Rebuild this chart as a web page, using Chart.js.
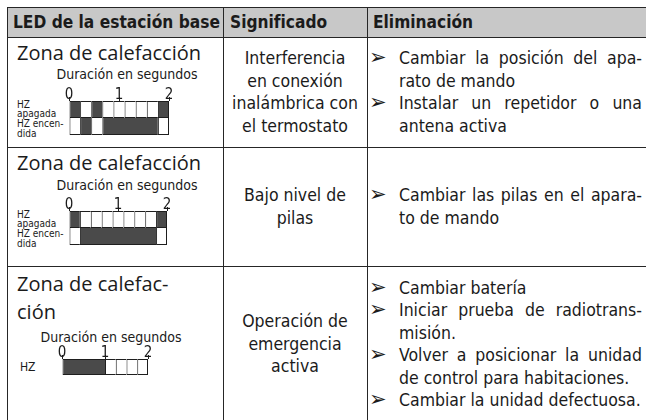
<!DOCTYPE html>
<html lang="es">
<head>
<meta charset="utf-8">
<title>LED de la estación base</title>
<script src="https://cdn.jsdelivr.net/npm/chart.js@4.4.1/dist/chart.umd.min.js"></script>
<style>
  html, body { margin: 0; padding: 0; background: #fff; }
  #tabla { position: relative; width: 646px; height: 420px; overflow: hidden; color: #1b1b1b;
           font-family: "DejaVu Sans Condensed", "DejaVu Sans", sans-serif; font-stretch: semi-condensed; }
  .hl, .vl { position: absolute; background: #262626; }
  .hl { height: 1px; left: 7px; right: 0; }
  .vl { width: 1px; top: 7px; bottom: 0; }
  .head { position: absolute; left: 7px; right: 0; top: 7px; height: 30px; background: #c8c8c8; }
  .th { position: absolute; top: 7px; height: 30px; line-height: 30px; font-weight: bold; font-size: 17.2px; white-space: nowrap; }
  .zona { position: absolute; left: 17px; font-family: "Open Sans", sans-serif; font-stretch: normal; font-size: 20px; line-height: 22px; white-space: nowrap; }
  .dur { position: absolute; width: 170px; text-align: center; font-size: 14px; line-height: 16px; white-space: nowrap; }
  .hz { position: absolute; left: 17px; font-size: 10px; line-height: 9.7px; white-space: nowrap; }
  .sig { position: absolute; left: 223px; width: 144px; display: flex; align-items: center; justify-content: center;
         text-align: center; font-size: 17.5px; line-height: 22.5px; }
  .elim { position: absolute; left: 367px; right: 0; display: flex; flex-direction: column; justify-content: center;
          font-size: 17.5px; line-height: 22.5px; }
  .ln { position: relative; margin-left: 32px; width: 243px; white-space: nowrap; }
  .ln.j { text-align: justify; text-align-last: justify; }
  .ln .b { position: absolute; left: -30px; top: -1px; font-family: "DejaVu Sans", sans-serif; font-stretch: normal; font-size: 21px; line-height: 22.5px; }
  .led { position: absolute; }
</style>
</head>
<body>
<div id="tabla">
  <div class="head"></div>
  <div class="th" style="left:13px">LED de la estación base</div>
  <div class="th" style="left:230px">Significado</div>
  <div class="th" style="left:373px">Eliminación</div>

  <!-- Zeile 1 -->
  <div class="zona" style="top:42px">Zona de calefacción</div>
  <div class="dur" style="left:42px;top:66px">Duración en segundos</div>
  <div class="hz" style="top:99.5px">HZ<br>apagada<br>HZ encen-<br>dida</div>
  <div class="led" style="left:61px;top:81px;width:116px;height:56px"><canvas id="led1"></canvas></div>
  <div class="sig" style="top:37px;height:110px">Interferencia<br>en conexión<br>inalámbrica con<br>el termostato</div>
  <div class="elim" style="top:37px;height:110px">
    <div class="ln j"><span class="b">➢</span>Cambiar la posición del apa-</div>
    <div class="ln">rato de mando</div>
    <div class="ln j"><span class="b">➢</span>Instalar un repetidor o una</div>
    <div class="ln">antena activa</div>
  </div>

  <!-- Zeile 2 -->
  <div class="zona" style="top:152px">Zona de calefacción</div>
  <div class="dur" style="left:42px;top:177px">Duración en segundos</div>
  <div class="hz" style="top:209.5px">HZ<br>apagada<br>HZ encen-<br>dida</div>
  <div class="led" style="left:61px;top:191px;width:114px;height:56px"><canvas id="led2"></canvas></div>
  <div class="sig" style="top:147px;height:119px">Bajo nivel de<br>pilas</div>
  <div class="elim" style="top:147px;height:119px">
    <div class="ln j"><span class="b">➢</span>Cambiar las pilas en el apara-</div>
    <div class="ln">to de mando</div>
  </div>

  <!-- Zeile 3 -->
  <div class="zona" style="top:273px">Zona de calefac-</div>
  <div class="zona" style="top:301px">ción</div>
  <div class="dur" style="left:26px;top:329px">Duración en segundos</div>
  <div class="hz" style="left:20px;top:361px;font-size:12px;line-height:12px">HZ</div>
  <div class="led" style="left:54px;top:339px;width:102px;height:38px"><canvas id="led3"></canvas></div>
  <div class="sig" style="top:266px;height:156px">Operación de<br>emergencia<br>activa</div>
  <div class="elim" style="top:266px;height:156px">
    <div class="ln"><span class="b">➢</span>Cambiar batería</div>
    <div class="ln j"><span class="b">➢</span>Iniciar prueba de radiotrans-</div>
    <div class="ln">misión.</div>
    <div class="ln j"><span class="b">➢</span>Volver a posicionar la unidad</div>
    <div class="ln">de control para habitaciones.</div>
    <div class="ln"><span class="b">➢</span>Cambiar la unidad defectuosa.</div>
  </div>

  <!-- Linien -->
  <div class="hl" style="top:7px"></div>
  <div class="hl" style="top:37px"></div>
  <div class="hl" style="top:147px"></div>
  <div class="hl" style="top:266px"></div>
  <div class="vl" style="left:7px"></div>
  <div class="vl" style="left:223px"></div>
  <div class="vl" style="left:367px"></div>
</div>

<script>
// Zeitachse: Sekunden und ihre Beschriftung
const SECONDS = [0, 1, 2];
const TICK_LABELS = ['0', '1', '2'];

// LED-Muster pro Zelle (1 = leuchtet / dunkel gezeichnet)
const ROWS_TWO = ['HZ apagada', 'HZ encendida'];
const ZONA1_APAGADA   = [1, 0, 1, 0, 0, 0, 0, 0, 1];
const ZONA1_ENCENDIDA = [0, 1, 0, 1, 1, 1, 1, 1, 0];
const ZONA2_APAGADA   = [1, 0, 0, 0, 0, 0, 0, 0, 1];
const ZONA2_ENCENDIDA = [0, 1, 1, 1, 1, 1, 1, 1, 0];
const ROWS_ONE = ['HZ'];
const EMERGENCIA_HZ   = [1, 1, 1, 1, 0, 0, 0, 0];

const DARK = '#4a4a4a';
const LINE = '#1e1e1e';
const FONT = "'DejaVu Sans Condensed', 'DejaVu Sans', sans-serif";

// dunkle Zellen zu einem Block zusammenfassen, helle einzeln lassen
function segments(label, cells, row) {
    const out = [];
    let i = 0;
    while (i < cells.length) {
        let j = i + 1;
        if (cells[i]) while (j < cells.length && cells[j]) j++;
        out.push({ x: [i, j], y: label, dark: !!cells[i], last: j === cells.length, row });
        i = j;
    }
    return out;
}

function ledChart(id, rows, patterns) {
    const cells = patterns[0].length;
    const perSecond = cells / (SECONDS.length - 1);
    const data = rows.flatMap((r, k) => segments(r, patterns[k], k));

    new Chart(document.getElementById(id), {
        type: 'bar',
        data: {
            labels: rows,
            datasets: [{
                data,
                backgroundColor: c => (c.raw && c.raw.dark ? DARK : '#ffffff'),
                borderColor: LINE,
                borderWidth: c => {
                    const r = c.raw;
                    if (!r) return 0;
                    return { left: 1, right: r.last ? 1 : 0, top: r.row === 0 ? 1 : 0, bottom: 1 };
                },
                borderSkipped: false,
                inflateAmount: 0,
                categoryPercentage: 1,
                barPercentage: 1,
            }]
        },
        options: {
            indexAxis: 'y',
            responsive: true,
            maintainAspectRatio: false,
            animation: false,
            devicePixelRatio: 1,
            layout: { autoPadding: false, padding: { left: 8, right: 8, top: 0, bottom: 2 } },
            plugins: { legend: { display: false }, tooltip: { enabled: false } },
            scales: {
                x: {
                    type: 'linear',
                    position: 'top',
                    min: 0,
                    max: cells,
                    afterBuildTicks: s => { s.ticks = SECONDS.map(v => ({ value: v * perSecond })); },
                    afterFit: s => { s.height = 20; },
                    grid: { drawOnChartArea: false, drawTicks: true, tickLength: 4, color: LINE },
                    border: { display: false },
                    ticks: {
                        padding: -6,
                        autoSkip: false,
                        maxRotation: 0,
                        color: '#1b1b1b',
                        font: { family: FONT, size: 15, lineHeight: 1 },
                        callback: (v, i) => TICK_LABELS[i],
                    }
                },
                y: { display: false }
            }
        }
    });
}

ledChart('led1', ROWS_TWO, [ZONA1_APAGADA, ZONA1_ENCENDIDA]);
ledChart('led2', ROWS_TWO, [ZONA2_APAGADA, ZONA2_ENCENDIDA]);
ledChart('led3', ROWS_ONE, [EMERGENCIA_HZ]);
</script>
</body>
</html>
